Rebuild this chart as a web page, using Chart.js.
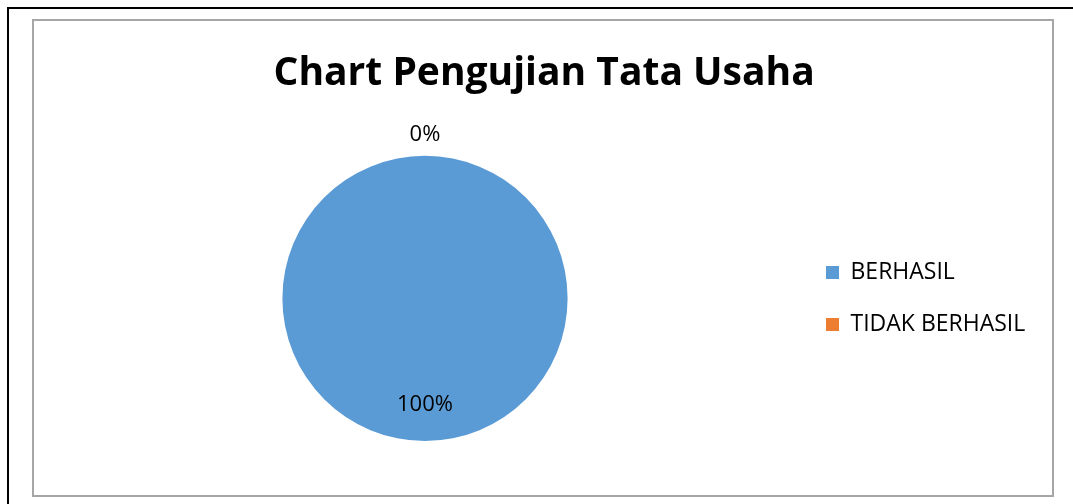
<!DOCTYPE html>
<html>
<head>
<meta charset="utf-8">
<title>Chart Pengujian Tata Usaha</title>
<script src="https://cdn.jsdelivr.net/npm/chart.js@4/dist/chart.umd.min.js"></script>
<style>
  html, body { margin: 0; padding: 0; background: #fff; overflow: hidden; }
  #wrap { position: relative; width: 1073px; height: 504px; }
  #outer { position: absolute; left: 7px; top: 7px; width: 1100px; height: 540px; border: 2px solid #000; }
  #inner { position: absolute; left: 32px; top: 19px; width: 1018px; height: 474px; border: 2px solid #a6a6a6; }
  #chart { position: absolute; left: 0; top: 0; }
</style>
</head>
<body>
<div id="wrap">
  <div id="outer"></div>
  <div id="inner"></div>
  <canvas id="chart" width="1073" height="504"></canvas>
</div>
<script>
// ================= DATA =================
const categories = ["BERHASIL", "TIDAK BERHASIL"];
const values = [100, 0];
const colors = ["#5b9bd5", "#ed7d31"];
const chartTitle = "Chart Pengujian Tata Usaha";

const FONT = "'Open Sans', 'Noto Sans', sans-serif";
const legendSize = 23;
const legendPad = 29;
const legendBox = 13;

// legend width decides where the pie sits, so measure the longest label
function legendWidth() {
    const ctx = document.createElement("canvas").getContext("2d");
    ctx.font = legendSize + "px " + FONT;
    let w = 0;
    categories.forEach(c => { w = Math.max(w, ctx.measureText(c).width); });
    return legendPad + legendBox + legendSize / 2 + w + 10;
}

// ================= PERCENT LABELS =================
const percentLabels = {
    id: "percentLabels",
    afterDatasetsDraw(chart) {
        const ctx = chart.ctx;
        const meta = chart.getDatasetMeta(0);
        const data = chart.data.datasets[0].data;
        const total = data.reduce((a, b) => a + b, 0);
        ctx.save();
        ctx.font = "22px " + FONT;
        ctx.fillStyle = "#000";
        ctx.textAlign = "center";
        ctx.textBaseline = "middle";
        meta.data.forEach((arc, i) => {
            const p = arc.getProps(["x", "y", "startAngle", "endAngle", "outerRadius"], true);
            const mid = (p.startAngle + p.endAngle) / 2;
            const r = data[i] > 0 ? p.outerRadius * 0.747 : p.outerRadius + 21;
            const pct = Math.round(data[i] / total * 100) + "%";
            ctx.fillText(pct, p.x + Math.cos(mid) * r, p.y + Math.sin(mid) * r);
        });
        ctx.restore();
    }
};

// ================= CHART =================
new Chart(document.getElementById("chart"), {
    type: "pie",
    data: {
        labels: categories,
        datasets: [{
            data: values,
            backgroundColor: colors,
            borderWidth: 0
        }]
    },
    options: {
        responsive: false,
        animation: false,
        layout: {
            padding: { top: 0, left: 53, bottom: 63, right: 1073 - 797 - legendWidth() }
        },
        plugins: {
            title: {
                display: true,
                text: chartTitle,
                color: "#000",
                font: { family: FONT, size: 39, weight: "bold", lineHeight: 1.2 },
                padding: { top: 50, bottom: 59 }
            },
            legend: {
                position: "right",
                fullSize: false,
                labels: {
                    boxWidth: legendBox,
                    boxHeight: legendBox,
                    padding: legendPad,
                    color: "#000",
                    font: { family: FONT, size: legendSize }
                }
            },
            tooltip: { enabled: false }
        }
    },
    plugins: [percentLabels]
});
</script>
</body>
</html>
